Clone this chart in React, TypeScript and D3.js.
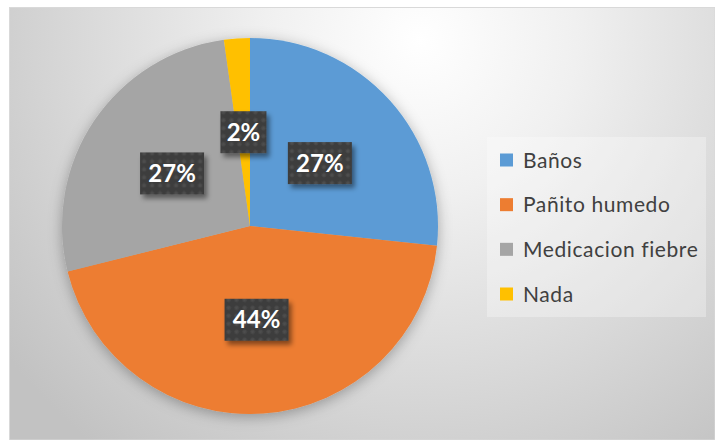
import React from "react";
import * as d3 from "d3";

const categories = ["Baños", "Pañito humedo", "Medicacion fiebre", "Nada"];
const counts = [12, 20, 12, 1];
const palette = ["#5b9bd5", "#ed7d31", "#a5a5a5", "#ffc000"];

const W = 715;
const H = 440;
const cx = 250;
const cy = 226;
const R = 188;

const App = () => {
  const total = d3.sum(counts);
  const color = d3.scaleOrdinal<string, string>().domain(categories).range(palette);
  const pct = d3.format(".0%");

  const pie = d3
    .pie<number>()
    .sort(null)
    .value((d) => d);
  const arcs = pie(counts);

  const arc = d3.arc<d3.PieArcDatum<number>>().innerRadius(0).outerRadius(R);
  const labelArc = d3
    .arc<d3.PieArcDatum<number>>()
    .innerRadius(R * 0.5)
    .outerRadius(R * 0.5);

  const legendY = d3
    .scalePoint<string>()
    .domain(categories)
    .range([160, 294]);

  return (
    <svg
      width={W}
      height={H}
      style={{ position: "absolute", left: 0, top: 0, display: "block" }}
    >
      <defs>
        <radialGradient id="bg" gradientUnits="userSpaceOnUse" cx={420} cy={40} r={520}>
          <stop offset="0" stopColor="#ffffff" />
          <stop offset="0.3" stopColor="#f0f0f0" />
          <stop offset="1" stopColor="#c2c2c2" />
        </radialGradient>
        <radialGradient id="dot">
          <stop offset="0" stopColor="#545454" />
          <stop offset="1" stopColor="#3d3d3d" />
        </radialGradient>
        <pattern id="dots" width={8} height={8} patternUnits="userSpaceOnUse">
          <rect width={8} height={8} fill="#3d3d3d" />
          <circle cx={4} cy={4} r={3} fill="url(#dot)" />
        </pattern>
        <filter id="pieShadow" x="-20%" y="-20%" width="140%" height="140%">
          <feDropShadow dx={0} dy={3} stdDeviation={7} floodColor="#000" floodOpacity={0.3} />
        </filter>
        <filter id="boxShadow" x="-30%" y="-30%" width="160%" height="160%">
          <feDropShadow dx={3} dy={4} stdDeviation={2.5} floodColor="#000" floodOpacity={0.45} />
        </filter>
      </defs>

      <rect x={9.5} y={7.5} width={W - 9.5} height={H - 7.5} fill="url(#bg)" stroke="#d9d9d9" />

      <g transform={`translate(${cx},${cy})`}>
        <g filter="url(#pieShadow)">
          {arcs.map((a, i) => (
            <path key={categories[i]} d={arc(a) ?? ""} fill={color(categories[i])} />
          ))}
        </g>
        {arcs.map((a, i) => {
          const [lx, ly] = labelArc.centroid(a);
          const txt = pct(a.data / total);
          const bw = txt.length * 18 + 10;
          return (
            <g key={"l" + i} transform={`translate(${lx},${ly})`}>
              <rect
                x={-bw / 2}
                y={-21}
                width={bw}
                height={42}
                fill="url(#dots)"
                filter="url(#boxShadow)"
              />
              <text
                textAnchor="middle"
                dy="0.36em"
                fill="#ffffff"
                fontFamily="Lato, 'Open Sans', sans-serif"
                fontWeight="bold"
                fontSize={24}
              >
                {txt}
              </text>
            </g>
          );
        })}
      </g>

      <rect x={487} y={137} width={219} height={180} fill="#ffffff" fillOpacity={0.3} />
      {categories.map((c) => (
        <g key={c} transform={`translate(500,${legendY(c)})`}>
          <rect x={0} y={-6.5} width={13} height={13} fill={color(c)} />
          <text
            x={23}
            dy="0.36em"
            fill="#404040"
            fontFamily="Lato, 'Open Sans', sans-serif"
            fontSize={21}
            letterSpacing={0.6}
          >
            {c}
          </text>
        </g>
      ))}
    </svg>
  );
};

export default App;
